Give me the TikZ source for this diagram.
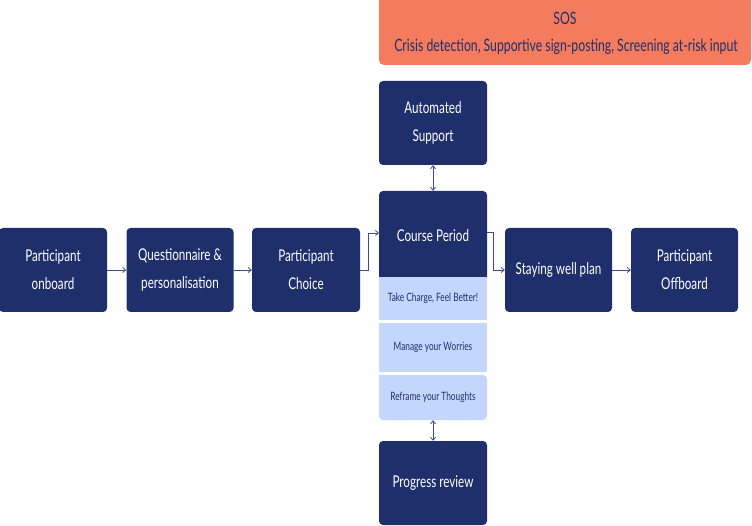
\documentclass[tikz,border=0pt]{standalone}
\usepackage{fontspec}
\setmainfont[FakeStretch=0.72]{Lato}
\usetikzlibrary{arrows.meta}
\definecolor{navy}{HTML}{1F2F6C}
\definecolor{lightb}{HTML}{C3D6FB}
\definecolor{sos}{HTML}{F47B5D}
\definecolor{arr}{HTML}{3F4C8C}
\tikzset{
  box/.style={fill=navy, rounded corners=4pt, text=white, align=center,
    font={\fontsize{16.2}{28}\selectfont}, inner sep=0pt},
  cell/.style={fill=lightb, text=navy, align=center,
    font={\fontsize{11.5}{13}\selectfont}, inner sep=0pt},
  conn/.style={draw=arr, line width=0.8pt, -{Straight Barb[length=3pt,width=5pt]}},
  dconn/.style={draw=arr, line width=0.8pt, {Straight Barb[length=3pt,width=5pt]}-{Straight Barb[length=3pt,width=5pt]}}
}
\begin{document}
\begin{tikzpicture}[x=1pt,y=-1pt]
\useasboundingbox (0,0) rectangle (752,526);
% SOS
\node[fill=sos, rounded corners=5pt, minimum width=372pt, minimum height=72pt, inner sep=0pt] (sos) at (565,29) {};
\node[text=navy, font={\fontsize{17}{20}\selectfont}] (sost) at (565,18) {SOS};
\node[text=navy, font={\fontsize{17}{20}\selectfont}] (sosd) at (566,47) {Crisis detection, Supportive sign-posting, Screening at-risk input};
% left row
\node[box, minimum width=108pt, minimum height=84pt] (onb) at (53,270) {Participant\\onboard};
\node[box, minimum width=107pt, minimum height=84pt] (que) at (180,270) {Questionnaire \&\\personalisation};
\node[box, minimum width=108pt, minimum height=84pt] (cho) at (306,270) {Participant\\Choice};
% center column
\node[box, minimum width=108pt, minimum height=84pt] (aut) at (433,123) {Automated\\Support};
\node[box, minimum width=108pt, minimum height=90pt] (crs) at (433,236) {};
\node[text=white, font={\fontsize{16.2}{28}\selectfont}] (crst) at (433,236) {Course Period};
\node[cell, minimum width=108pt, minimum height=43pt] (c1) at (433,298.5) {Take Charge, Feel Better!};
\node[cell, minimum width=108pt, minimum height=49pt] (c2) at (433,347.5) {Manage your Worries};
\path[fill=lightb, rounded corners=4pt] (379,375) -- (379,420) -- (487,420) -- (487,375) [sharp corners] -- cycle;
\node[text=navy, font={\fontsize{11.5}{13}\selectfont}, minimum width=108pt, minimum height=45pt, inner sep=0pt] (c3) at (433,397.5) {Reframe your Thoughts};
\node[box, minimum width=108pt, minimum height=84pt] (prg) at (433,483) {Progress review};
% right
\node[box, minimum width=107pt, minimum height=84pt] (stw) at (558.5,270) {Staying well plan};
\node[box, minimum width=107pt, minimum height=84pt] (off) at (684.5,270) {Participant\\Offboard};
% connectors
\draw[conn] (onb.east) -- (que.west);
\draw[conn] (que.east) -- (cho.west);
\coordinate (cin) at (379,233);
\coordinate (cout) at (487,232);
\draw[conn] (cho.east) -- ++(8,0) |- (cin);
\draw[conn] (cout) -- ++(6,0) |- (stw.west);
\draw[conn] (stw.east) -- (off.west);
\draw[dconn] (aut.south) -- (crs.north);
\draw[dconn] (c3.south) -- (prg.north);
\end{tikzpicture}
\end{document}
